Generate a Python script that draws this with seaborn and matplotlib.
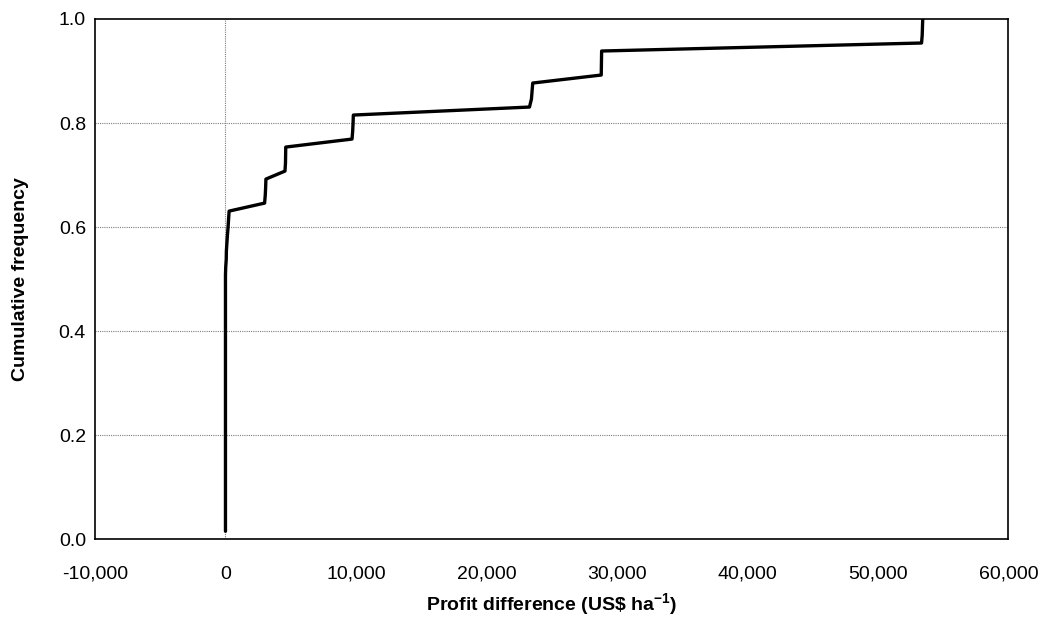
import matplotlib
matplotlib.use("Agg")
import matplotlib.pyplot as plt
import seaborn as sns
import numpy as np
import pandas as pd

# Profit difference values (US$ ha-1), sorted, 64 observations
profit_low = [0] * 33
profit_mid = [20, 60, 70, 110, 150, 200, 240, 280]
profit_high = [3000, 3050, 3080, 3100,
               4560, 4600, 4610, 4620,
               9700, 9750, 9780, 9800,
               23300, 23450, 23500, 23550,
               28800, 28810, 28820, 28830,
               53350, 53400, 53420, 53440]

profit = profit_low + profit_mid + profit_high
n = len(profit)
cum_freq = [(i + 1) / n for i in range(n)]

df = pd.DataFrame({"profit": profit, "cum_freq": cum_freq})

sns.set_style("white")
plt.rcParams['font.family'] = ['Liberation Sans', 'DejaVu Sans']
plt.rcParams['mathtext.default'] = 'regular'

fig = plt.figure(figsize=(10.45, 6.27), dpi=100)
ax = fig.add_axes([0.0909, 0.1399, 0.8740, 0.8298])

# gridlines
for yv in [0.2, 0.4, 0.6, 0.8]:
    ax.axhline(yv, color='#7f7f7f', linestyle=(0, (1, 1)), linewidth=0.8, zorder=1)
ax.axvline(0, color='#7f7f7f', linestyle=(0, (1, 1)), linewidth=0.8, zorder=1)

# raw points, no aggregation of repeated x values
sns.lineplot(data=df, x="profit", y="cum_freq", sort=False, estimator=None,
             color='black', linewidth=2.4, ax=ax, zorder=3)

ax.set_xlim(-10000, 60000)
ax.set_ylim(0, 1.0)
ax.set_xticks(np.arange(-10000, 60001, 10000))
ax.set_yticks(np.arange(0, 1.01, 0.2))
ax.set_xticklabels([f"{v:,}" for v in range(-10000, 60001, 10000)])
ax.set_yticklabels([f"{v:.1f}" for v in np.arange(0, 1.01, 0.2)])

for s in ax.spines.values():
    s.set_color('black')
    s.set_linewidth(1.2)

ax.tick_params(axis='x', direction='inout', length=7, width=1.2, colors='black',
               labelsize=14, pad=15.5)
ax.tick_params(axis='y', direction='out', length=4, width=1.0, colors='black',
               labelsize=14, pad=2.5)

ax.set_xlabel("Profit difference (US\\$ ha$^{-1}$)", fontsize=14, fontweight='bold', color='black')
ax.set_ylabel("Cumulative frequency", fontsize=14, fontweight='bold', color='black')
ax.xaxis.set_label_coords(0.5, -0.099)
ax.yaxis.set_label_coords(-0.0723, 0.5)

fig.savefig("out.png", dpi=100)
